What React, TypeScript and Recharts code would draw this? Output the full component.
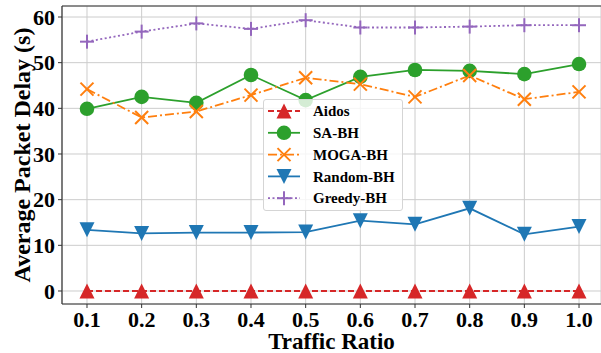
import React from "react";
import { LineChart, Line, XAxis, YAxis, CartesianGrid, Legend, ReferenceLine } from "recharts";

const ratios = [0.1, 0.2, 0.3, 0.4, 0.5, 0.6, 0.7, 0.8, 0.9, 1.0];
const aidos = [0, 0, 0, 0, 0, 0, 0, 0, 0, 0];
const saBH = [39.9, 42.5, 41.2, 47.3, 41.8, 46.9, 48.4, 48.2, 47.5, 49.7];
const mogaBH = [44.2, 38.0, 39.3, 42.9, 46.7, 45.3, 42.5, 47.2, 42.0, 43.6];
const randomBH = [13.4, 12.6, 12.8, 12.8, 12.9, 15.4, 14.6, 18.1, 12.4, 14.1];
const greedyBH = [54.6, 56.8, 58.6, 57.4, 59.3, 57.7, 57.7, 57.9, 58.2, 58.2];
const yTicks = [0, 10, 20, 30, 40, 50, 60];

const data = ratios.map((x, i) => ({
  x,
  aidos: aidos[i],
  sa: saBH[i],
  moga: mogaBH[i],
  random: randomBH[i],
  greedy: greedyBH[i],
}));

const FONT = "'Liberation Serif', 'Times New Roman', serif";
const X_DOMAIN: [number, number] = [0.0543, 1.0402];
const Y_DOMAIN: [number, number] = [-2.85, 62.41];

type MarkerKind = "triUp" | "circle" | "x" | "triDown" | "plus";

const drawMarker = (kind: MarkerKind, cx: number, cy: number, color: string, key?: any) => {
  const r = 7.5;
  switch (kind) {
    case "triUp":
      return <polygon key={key} points={`${cx},${cy - r} ${cx - r},${cy + r} ${cx + r},${cy + r}`} fill={color} />;
    case "triDown":
      return <polygon key={key} points={`${cx},${cy + r} ${cx - r},${cy - r} ${cx + r},${cy - r}`} fill={color} />;
    case "circle":
      return <circle key={key} cx={cx} cy={cy} r={7.3} fill={color} />;
    case "x": {
      const h = 6.5;
      return (
        <g key={key} stroke={color} strokeWidth={2}>
          <line x1={cx - h} y1={cy - h} x2={cx + h} y2={cy + h} />
          <line x1={cx - h} y1={cy + h} x2={cx + h} y2={cy - h} />
        </g>
      );
    }
    case "plus": {
      const h = 7;
      return (
        <g key={key} stroke={color} strokeWidth={2}>
          <line x1={cx - h} y1={cy} x2={cx + h} y2={cy} />
          <line x1={cx} y1={cy - h} x2={cx} y2={cy + h} />
        </g>
      );
    }
  }
};

const makeDot = (kind: MarkerKind, color: string) => (props: any) => {
  const { cx, cy, index } = props;
  if (cx == null || cy == null) return <g key={`e-${index}`} />;
  return drawMarker(kind, cx, cy, color, `${kind}-${index}`);
};

const seriesInfo = [
  { key: "aidos", name: "Aidos", color: "#d62728", marker: "triUp" as MarkerKind, dash: "6 3" },
  { key: "sa", name: "SA-BH", color: "#2ca02c", marker: "circle" as MarkerKind, dash: undefined },
  { key: "moga", name: "MOGA-BH", color: "#ff7f0e", marker: "x" as MarkerKind, dash: "9 3 2 3" },
  { key: "random", name: "Random-BH", color: "#1f77b4", marker: "triDown" as MarkerKind, dash: undefined },
  { key: "greedy", name: "Greedy-BH", color: "#9467bd", marker: "plus" as MarkerKind, dash: "2 2.5" },
];

const textStyle = { fontFamily: FONT, fontWeight: 700 } as React.CSSProperties;

const LegendBox = () => (
  <div
    style={{
      position: "absolute",
      left: 263,
      top: 99,
      width: 140,
      height: 112,
      background: "rgba(255,255,255,0.8)",
      border: "1px solid #d5d5d5",
      borderRadius: 3,
      boxSizing: "border-box",
    }}
  >
    <svg width={140} height={112} style={{ position: "absolute", left: -1, top: -1 }}>
      {seriesInfo.map((s, i) => {
        const cy = 12 + i * 21.8;
        return (
          <g key={s.key}>
            <line x1={5} y1={cy} x2={37} y2={cy} stroke={s.color} strokeWidth={1.8} strokeDasharray={s.dash} />
            {drawMarker(s.marker, 21, cy, s.color)}
            <text x={50} y={cy} dy="0.34em" style={{ ...textStyle, fontSize: 15 }} fill="#000">
              {s.name}
            </text>
          </g>
        );
      })}
    </svg>
  </div>
);

const YLabel = (props: any) => {
  const vb = props.viewBox || { x: 0, y: 6, width: 62, height: 298 };
  const cx = 22;
  const cy = vb.y + vb.height / 2;
  return (
    <text
      x={cx}
      y={cy}
      transform={`rotate(-90, ${cx}, ${cy})`}
      textAnchor="middle"
      dominantBaseline="central"
      style={{ ...textStyle, fontSize: 24 }}
      fill="#000"
    >
      Average Packet Delay (s)
    </text>
  );
};

const XLabel = (props: any) => {
  const vb = props.viewBox || { x: 62, y: 304, width: 539, height: 49 };
  return (
    <text x={vb.x + vb.width / 2} y={348.5} textAnchor="middle" style={{ ...textStyle, fontSize: 23 }} fill="#000">
      Traffic Ratio
    </text>
  );
};

const tickStyle = { ...textStyle, fontSize: 22 };

export default function App() {
  return (
    <div style={{ position: "absolute", left: 0, top: 0, width: 601, height: 353, background: "#fff", fontFamily: FONT }}>
      <LineChart width={601} height={353} data={data} margin={{ top: 6, right: 0, bottom: 0, left: 0 }}>
        <CartesianGrid stroke="#cccccc" strokeWidth={1} horizontal={true} vertical={true} />
        <XAxis
          dataKey="x"
          type="number"
          domain={X_DOMAIN}
          allowDataOverflow
          ticks={ratios}
          tickFormatter={(v: number) => v.toFixed(1)}
          height={49}
          tickSize={4}
          tickMargin={3}
          stroke="#333"
          tick={{ style: tickStyle, fontSize: 22, fontFamily: FONT, fontWeight: 700, fill: "#000" }}
          axisLine={{ stroke: "#333", strokeWidth: 1.2 }}
          tickLine={{ stroke: "#333" }}
          interval={0}
          label={<XLabel />}
        />
        <YAxis
          type="number"
          domain={Y_DOMAIN}
          allowDataOverflow
          ticks={yTicks}
          width={62}
          tickSize={4}
          tickMargin={3}
          stroke="#333"
          tick={{ style: tickStyle, fontSize: 22, fontFamily: FONT, fontWeight: 700, fill: "#000" }}
          axisLine={{ stroke: "#333", strokeWidth: 1.2 }}
          tickLine={{ stroke: "#333" }}
          interval={0}
          label={<YLabel />}
        />
        <ReferenceLine y={Y_DOMAIN[1]} stroke="#333" strokeWidth={1.2} ifOverflow="visible" />
        {seriesInfo.map((s) => (
          <Line
            key={s.key}
            dataKey={s.key}
            name={s.name}
            stroke={s.color}
            strokeWidth={1.8}
            strokeDasharray={s.dash}
            dot={makeDot(s.marker, s.color)}
            activeDot={false}
            isAnimationActive={false}
            type="linear"
          />
        ))}
        <Legend
          layout="vertical"
          align="center"
          verticalAlign="middle"
          content={() => <LegendBox />}
          wrapperStyle={{ position: "absolute", left: 0, top: 0, width: 0, height: 0 }}
        />
      </LineChart>
    </div>
  );
}
